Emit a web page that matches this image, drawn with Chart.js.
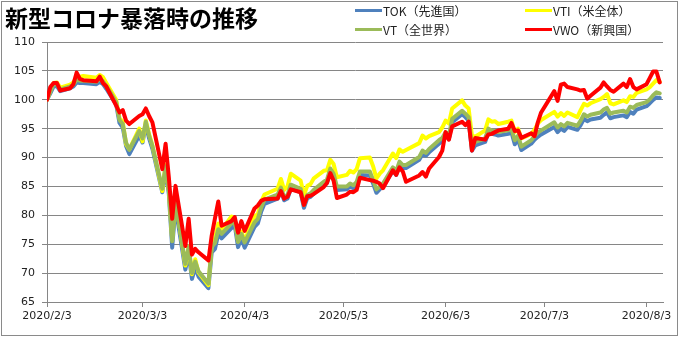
<!DOCTYPE html>
<html lang="ja">
<head>
<meta charset="utf-8">
<title>新型コロナ暴落時の推移</title>
<script src="https://cdn.jsdelivr.net/npm/chart.js@4.4.1/dist/chart.umd.min.js"></script>
<style>
  html, body { margin: 0; padding: 0; background: #fff; }
  #wrap { position: relative; width: 680px; height: 338px; overflow: hidden; }
  #chart { position: absolute; left: 0; top: 0; }
  #frame { position: absolute; left: 1px; top: 1px; width: 675px; height: 333px; border: 1px solid #8a8a8a; pointer-events: none; }
  #title { position: absolute; left: 5px; top: 4px; font: bold 23px "Noto Sans CJK JP", sans-serif; line-height: 26px; color: #000; white-space: nowrap; }
  #legend { position: absolute; left: 355px; top: 2px; width: 320px; height: 40px; }
  .item { position: absolute; display: flex; align-items: center; height: 17px; font: 12px "Noto Sans CJK JP", sans-serif; color: #222; white-space: nowrap; }
  .item i { display: block; width: 27px; height: 3px; margin-right: 1px; }
</style>
</head>
<body>
<div id="wrap">
  <canvas id="chart" width="680" height="338"></canvas>
  <div id="title">新型コロナ暴落時の推移</div>
  <div id="legend"></div>
  <div id="frame"></div>
</div>
<script>
(function () {
  "use strict";

  // trading days, 2020/2/3 = 100
  var dates = [
    "2020/2/3", "2020/2/4", "2020/2/5", "2020/2/6", "2020/2/7", "2020/2/10", "2020/2/11", "2020/2/12", "2020/2/13", "2020/2/14",
    "2020/2/18", "2020/2/19", "2020/2/20", "2020/2/21", "2020/2/24", "2020/2/25", "2020/2/26", "2020/2/27", "2020/2/28",
    "2020/3/2", "2020/3/3", "2020/3/4", "2020/3/5", "2020/3/6", "2020/3/9", "2020/3/10", "2020/3/11", "2020/3/12", "2020/3/13",
    "2020/3/16", "2020/3/17", "2020/3/18", "2020/3/19", "2020/3/20", "2020/3/23", "2020/3/24", "2020/3/25", "2020/3/26", "2020/3/27",
    "2020/3/30", "2020/3/31",
    "2020/4/1", "2020/4/2", "2020/4/3", "2020/4/6", "2020/4/7", "2020/4/8", "2020/4/9", "2020/4/13", "2020/4/14", "2020/4/15",
    "2020/4/16", "2020/4/17", "2020/4/20", "2020/4/21", "2020/4/22", "2020/4/23", "2020/4/24", "2020/4/27", "2020/4/28", "2020/4/29",
    "2020/4/30",
    "2020/5/1", "2020/5/4", "2020/5/5", "2020/5/6", "2020/5/7", "2020/5/8", "2020/5/11", "2020/5/12", "2020/5/13", "2020/5/14",
    "2020/5/15", "2020/5/18", "2020/5/19", "2020/5/20", "2020/5/21", "2020/5/22", "2020/5/26", "2020/5/27", "2020/5/28", "2020/5/29",
    "2020/6/1", "2020/6/2", "2020/6/3", "2020/6/4", "2020/6/5", "2020/6/8", "2020/6/9", "2020/6/10", "2020/6/11", "2020/6/12",
    "2020/6/15", "2020/6/16", "2020/6/17", "2020/6/18", "2020/6/19", "2020/6/22", "2020/6/23", "2020/6/24", "2020/6/25", "2020/6/26",
    "2020/6/29", "2020/6/30",
    "2020/7/1", "2020/7/2", "2020/7/6", "2020/7/7", "2020/7/8", "2020/7/9", "2020/7/10", "2020/7/13", "2020/7/14", "2020/7/15",
    "2020/7/16", "2020/7/17", "2020/7/20", "2020/7/21", "2020/7/22", "2020/7/23", "2020/7/24", "2020/7/27", "2020/7/28", "2020/7/29",
    "2020/7/30", "2020/7/31",
    "2020/8/3", "2020/8/4", "2020/8/5", "2020/8/6", "2020/8/7"
  ];

  var tok = [
    100, 101.1, 102.3, 102.4, 101.5, 102.0, 102.3, 103.0, 102.9, 102.9, 102.7, 103.1, 102.7, 101.9, 99.2, 96.0, 95.2, 92.0, 90.6,
    93.8, 92.6, 95.6, 93.3, 91.5, 84.0, 88.0, 83.6, 74.4, 81.5, 70.6, 73.5, 69.0, 71.0, 69.4, 67.4, 73.6, 74.2, 76.8, 76.0, 77.8, 78.3,
    74.5, 76.0, 74.4, 78.0, 78.6, 80.6, 82.0, 82.9, 84.2, 82.6, 82.9, 84.6, 84.0, 81.3, 83.0, 83.2, 83.8, 85.2, 85.6, 87.6, 86.4,
    84.4, 84.5, 85.0, 84.7, 85.2, 87.0, 86.9, 85.5, 83.9, 84.5, 85.0, 87.7, 87.0, 88.8, 88.2, 88.2, 89.6, 90.6, 90.3, 90.9,
    92.4, 92.8, 93.8, 93.2, 96.1, 97.5, 97.0, 96.4, 91.2, 92.1, 92.7, 94.3, 94.1, 94.0, 93.8, 94.1, 94.4, 92.3, 93.1, 91.3, 92.4, 93.1,
    93.6, 94.0, 95.3, 94.4, 95.0, 94.6, 95.3, 94.8, 95.6, 96.7, 96.3, 96.6, 96.9, 97.4, 97.8, 96.8, 97.0, 97.3, 97.0, 97.9, 97.6, 98.3,
    98.9, 99.4, 100.0, 100.4, 100.3
  ];
  var vti = [
    100, 101.6, 102.9, 103.0, 102.1, 102.6, 103.0, 103.9, 104.0, 104.1, 103.8, 104.3, 103.9, 102.9, 100.0, 96.8, 96.2, 92.3, 91.4,
    95.0, 92.8, 96.4, 94.0, 92.1, 84.2, 88.7, 84.3, 75.8, 82.9, 71.3, 74.6, 69.8, 72.4, 70.1, 67.9, 75.0, 76.0, 78.6, 77.5, 79.8, 79.4,
    75.5, 77.2, 75.6, 79.8, 80.2, 82.3, 83.6, 84.6, 86.3, 84.4, 85.0, 87.2, 86.0, 83.5, 85.1, 85.4, 86.4, 87.7, 87.8, 89.6, 88.9,
    86.6, 87.0, 87.7, 87.4, 88.0, 89.9, 90.0, 88.5, 86.4, 87.2, 87.8, 90.7, 89.9, 91.4, 91.0, 91.3, 92.5, 93.8, 93.3, 93.7,
    94.4, 95.2, 96.4, 95.9, 98.5, 99.9, 99.0, 98.5, 93.8, 93.6, 94.7, 96.6, 96.2, 96.3, 95.8, 96.2, 96.4, 94.4, 95.0, 93.3, 94.1, 94.8,
    95.9, 96.5, 97.9, 97.1, 97.7, 97.2, 97.8, 97.0, 98.2, 99.3, 99.0, 99.4, 100.1, 100.5, 101.0, 99.4, 99.2, 99.9, 99.6, 100.6, 100.5, 101.2,
    101.8, 102.2, 102.8, 103.4, 103.1
  ];
  var vt = [
    100, 101.4, 102.7, 102.7, 101.8, 102.3, 102.6, 103.5, 103.3, 103.3, 103.1, 103.6, 103.2, 102.4, 99.6, 96.5, 95.8, 92.6, 91.4,
    94.6, 93.3, 96.2, 93.8, 92.0, 84.6, 88.5, 84.2, 75.5, 82.4, 71.6, 74.5, 70.0, 72.0, 70.3, 68.2, 74.5, 75.2, 77.6, 76.8, 78.6, 79.1,
    75.4, 76.8, 75.3, 78.8, 79.4, 81.3, 82.7, 83.6, 84.8, 83.2, 83.5, 85.3, 84.6, 81.8, 83.5, 83.8, 84.4, 85.8, 86.2, 88.1, 87.2,
    85.0, 85.0, 85.5, 85.2, 85.8, 87.6, 87.6, 86.1, 84.5, 85.0, 85.5, 88.3, 87.6, 89.3, 88.7, 88.7, 90.1, 91.2, 90.8, 91.5,
    93.0, 93.4, 94.4, 93.8, 96.7, 98.1, 97.6, 97.0, 91.8, 92.7, 93.3, 95.0, 94.7, 94.6, 94.4, 94.7, 95.0, 93.0, 93.8, 91.9, 93.0, 93.7,
    94.3, 94.7, 96.1, 95.2, 95.8, 95.4, 96.0, 95.5, 96.4, 97.5, 97.1, 97.4, 97.8, 98.3, 98.6, 97.6, 97.8, 98.1, 97.8, 98.8, 98.6, 99.1,
    99.6, 100.1, 100.8, 101.3, 101.1
  ];
  var vwo = [
    100, 102.2, 102.9, 102.9, 101.6, 102.0, 102.7, 104.7, 103.6, 103.4, 103.2, 104.0, 102.9, 102.3, 99.0, 97.8, 98.2, 96.4, 95.8,
    97.2, 97.5, 98.5, 97.2, 96.1, 88.0, 92.4, 86.5, 79.4, 85.1, 74.7, 79.4, 73.2, 74.2, 73.6, 72.2, 76.5, 79.5, 82.4, 78.2, 79.0, 79.7,
    77.0, 79.0, 77.3, 81.2, 81.7, 82.5, 82.8, 82.9, 84.2, 82.9, 83.2, 84.5, 84.0, 81.8, 83.3, 83.4, 83.7, 84.9, 85.6, 87.3, 86.0,
    83.0, 83.6, 84.1, 84.0, 84.4, 86.5, 86.1, 86.0, 85.8, 85.5, 84.7, 87.8, 87.0, 88.3, 87.6, 85.8, 86.9, 87.5, 86.7, 88.1,
    90.1, 91.2, 94.4, 93.1, 95.4, 96.2, 95.6, 96.2, 91.2, 93.4, 93.1, 94.0, 94.1, 94.4, 94.7, 95.0, 96.0, 94.6, 94.7, 93.4, 94.2, 93.7,
    96.1, 97.8, 101.5, 99.8, 102.6, 102.8, 102.2, 101.8, 101.6, 101.7, 100.2, 100.7, 102.1, 103.0, 102.3, 101.7, 101.4, 102.8, 102.2, 103.6, 102.2, 101.8,
    102.7, 103.8, 104.9, 104.9, 103.0
  ];

  var seriesNames = ["TOK（先進国）", "VTI（米全体）", "VT（全世界）", "VWO（新興国）"];
  var seriesValues = [tok, vti, vt, vwo];
  var seriesColors = ["#4f81bd", "#ffff00", "#9bbb59", "#ff0000"];

  var xTickLabels = ["2020/2/3", "2020/3/3", "2020/4/3", "2020/5/3", "2020/6/3", "2020/7/3", "2020/8/3"];
  var yMin = 65, yMax = 110, yStep = 5;

  var AXIS = "#868686";
  var TEXT = "#222";

  // days since the first date, used as the x value
  function dayOf(s) {
    var p = s.split("/");
    var base = Date.UTC(2020, 1, 3);
    return Math.round((Date.UTC(+p[0], +p[1] - 1, +p[2]) - base) / 86400000);
  }

  var xTickDays = xTickLabels.map(dayOf);
  var lastDay = dayOf(dates[dates.length - 1]);

  function buildLegend() {
    var box = document.getElementById("legend");
    seriesNames.forEach(function (name, i) {
      var el = document.createElement("div");
      el.className = "item";
      el.style.left = (i % 2) * 170 + "px";
      el.style.top = Math.floor(i / 2) * 19 + "px";
      el.innerHTML = '<i style="background:' + seriesColors[i] + '"></i><span>' + name + "</span>";
      box.appendChild(el);
    });
  }

  var datasets = seriesValues.map(function (vals, i) {
    return {
      label: seriesNames[i],
      data: vals.map(function (v, j) { return { x: dayOf(dates[j]), y: v }; }),
      borderColor: seriesColors[i],
      backgroundColor: seriesColors[i],
      borderWidth: 4,
      borderJoinStyle: "round",
      borderCapStyle: "round",
      pointRadius: 0,
      tension: 0,
      order: seriesValues.length - i
    };
  });

  buildLegend();

  new Chart(document.getElementById("chart"), {
    type: "line",
    data: { datasets: datasets },
    options: {
      responsive: false,
      animation: false,
      devicePixelRatio: 1,
      layout: { padding: { left: 0, right: 17, top: 42, bottom: 0 } },
      plugins: { legend: { display: false }, title: { display: false }, tooltip: { enabled: false } },
      scales: {
        x: {
          type: "linear",
          min: 0,
          max: lastDay + 1,
          afterFit: function (s) { s.height = 36; },
          afterBuildTicks: function (s) { s.ticks = xTickDays.map(function (d) { return { value: d }; }); },
          ticks: {
            autoSkip: false, maxRotation: 0, minRotation: 0, padding: 3, color: TEXT,
            font: { family: "DejaVu Sans", size: 11 },
            callback: function (v, idx) { return xTickLabels[idx]; }
          },
          grid: { drawOnChartArea: false, drawTicks: true, tickLength: 5, color: AXIS, lineWidth: 1 },
          border: { color: AXIS, width: 1 }
        },
        y: {
          min: yMin,
          max: yMax,
          afterFit: function (s) { s.width = 47; },
          ticks: { stepSize: yStep, padding: 7, color: TEXT, font: { family: "DejaVu Sans", size: 11 } },
          grid: { color: AXIS, lineWidth: 1, tickLength: 5 },
          border: { color: AXIS, width: 1 }
        }
      }
    }
  });
})();
</script>
</body>
</html>
